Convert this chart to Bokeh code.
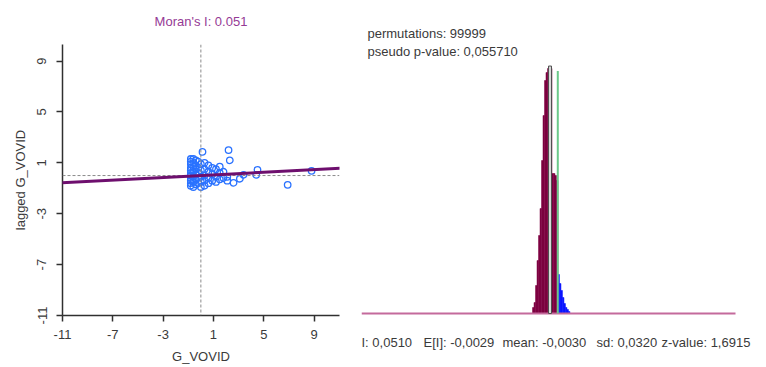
from bokeh.plotting import figure
from bokeh.models import Range1d, Span, Slope, Label, FixedTicker
from bokeh.layouts import row, column
from bokeh.embed import file_html
from bokeh.resources import INLINE

# ---------------- data ----------------
var_name = "G_VOVID"
moran_i = 0.051
x_ticks = [-11, -7, -3, 1, 5, 9]
y_ticks = [-11, -7, -3, 1, 5, 9]

x_vals = [-0.8, -0.8, -0.8, -0.8, -0.8, -0.8, -0.8, -0.8, -0.8, -0.8, -0.8,
          -0.6, -0.6, -0.6, -0.6, -0.6, -0.6, -0.6,
          -0.4, -0.4, -0.4, -0.4, -0.4, -0.4,
          -0.2, -0.2, -0.2, -0.2, -0.2,
          0.0, 0.0, 0.0, 0.0, 0.0,
          0.13,
          0.3, 0.3, 0.3, 0.3, 0.3,
          0.6, 0.6, 0.6, 0.6,
          0.9, 0.9, 0.9,
          1.2, 1.2, 1.2,
          1.5, 1.5, 1.5,
          1.8, 1.8,
          2.2, 2.3, 2.1, 2.1,
          2.6, 3.1, 3.4, 4.5, 4.4, 6.9, 8.8]
y_vals = [1.3, 1.1, 0.9, 0.6, 0.4, 0.2, 0.0, -0.2, -0.4, -0.6, -0.8,
          1.3, 1.0, 0.7, 0.3, -0.1, -0.5, -0.9,
          1.2, 0.8, 0.5, 0.1, -0.3, -0.7,
          1.1, 0.6, 0.2, -0.2, -0.6,
          0.9, 0.4, -0.1, -0.5, -0.9,
          1.86,
          1.0, 0.5, 0.0, -0.4, -0.8,
          0.8, 0.3, -0.2, -0.6,
          0.6, 0.1, -0.4,
          0.5, -0.1, -0.5,
          0.7, 0.2, -0.3,
          0.3, -0.2,
          2.0, 1.2, -0.1, -0.4,
          -0.57, -0.25, 0.06, 0.45, 0.06, -0.73, 0.37]

# permutation histogram
bin_edges = [-0.1245, -0.1141, -0.1037, -0.0933, -0.0829, -0.0725, -0.0621,
             -0.0517, -0.0413, -0.0309, -0.0205, -0.0101, 0.0003, 0.0107,
             0.0211, 0.0315, 0.0419, 0.0523, 0.0627, 0.0731, 0.0835, 0.0939,
             0.1043, 0.1147, 0.1251, 0.1355]
bin_counts = [240, 440, 1120, 2120, 3120, 4200, 6120, 7920, 9320, 9640, 9800,
              9800, 9800, 5600, 5600, 5520, 5320, 1560, 1200, 920, 640, 400,
              240, 160, 80]
hist_axis = [-1.312, 1.285]

observed_i = 0.0510
expected_i = -0.0029
perm_mean = -0.0030
perm_sd = 0.0320
z_value = 1.6915
permutations = 99999
p_value = 0.055710

FONT = "Liberation Sans"
TXT = "#3a3a3a"

# ---------------- left: Moran scatter ----------------
p1 = figure(frame_width=277, frame_height=271,
            x_range=Range1d(-11, 11.02), y_range=Range1d(-11, 10.3),
            output_backend="svg", toolbar_location=None,
            min_border_left=62, min_border_right=19,
            min_border_top=43, min_border_bottom=52)
p1.title.text = "Moran's I: 0.051"
p1.title.align = "center"
p1.title.vertical_align = "top"
p1.title.text_font = FONT
p1.title.text_font_size = "13px"
p1.title.text_font_style = "normal"
p1.title.text_color = "#953a95"
p1.title.standoff = 27
p1.grid.visible = False
p1.outline_line_color = None

p1.xaxis.ticker = FixedTicker(ticks=x_ticks)
p1.yaxis.ticker = FixedTicker(ticks=y_ticks)
p1.xaxis.major_label_overrides = {t: str(t) for t in x_ticks}
p1.yaxis.major_label_overrides = {t: str(t) for t in y_ticks}
p1.xaxis.axis_label = var_name
p1.yaxis.axis_label = "lagged " + var_name
p1.yaxis.major_label_orientation = "vertical"
for ax in (p1.xaxis[0], p1.yaxis[0]):
    ax.axis_line_color = "#303030"
    ax.axis_line_width = 1.5
    ax.major_tick_line_color = "#303030"
    ax.major_tick_line_width = 1.5
    ax.major_tick_out = 6
    ax.major_tick_in = 0
    ax.minor_tick_line_color = None
    ax.major_label_text_font = FONT
    ax.major_label_text_font_size = "13px"
    ax.major_label_text_color = TXT
    ax.axis_label_text_font = FONT
    ax.axis_label_text_font_size = "13px"
    ax.axis_label_text_font_style = "normal"
    ax.axis_label_text_color = TXT
p1.xaxis.major_label_standoff = 8
p1.yaxis.major_label_standoff = 10
p1.xaxis.axis_label_standoff = 7
p1.yaxis.axis_label_standoff = 7

p1.add_layout(Span(location=0, dimension="height", line_color="#8a8a8a",
                   line_dash="3 2", line_width=1))
p1.add_layout(Span(location=0, dimension="width", line_color="#8a8a8a",
                   line_dash="3 2", line_width=1))
p1.scatter(x_vals, y_vals, size=6.5, marker="circle", fill_color=None,
           line_color="#2a72ff", line_width=1.3)
p1.add_layout(Slope(gradient=moran_i, y_intercept=0, line_color="#6e0f6e",
                    line_width=3))

# ---------------- right: permutation histogram ----------------
FW = 404
ppu = 374 / (hist_axis[1] - hist_axis[0])       # pixels per unit of I
cpp = max(bin_counts) / 245                      # counts per pixel
BASE = 313                                       # baseline row (px)
FH = 366
p2 = figure(title=None, frame_width=FW, frame_height=FH,
            x_range=Range1d(hist_axis[0], hist_axis[0] + FW / ppu),
            y_range=Range1d(-(FH - BASE) * cpp, BASE * cpp),
            output_backend="svg", toolbar_location=None,
            min_border_left=3, min_border_right=0,
            min_border_top=0, min_border_bottom=0)
p2.axis.visible = False
p2.grid.visible = False
p2.outline_line_color = None

lefts = bin_edges[:-1]
rights = bin_edges[1:]
mar = [i for i in range(len(bin_counts)) if rights[i] <= observed_i + 0.002]
blu = [i for i in range(len(bin_counts)) if i not in mar]
p2.quad(left=[lefts[i] for i in mar], right=[rights[i] for i in mar],
        bottom=0, top=[bin_counts[i] for i in mar],
        fill_color="#7d0040", line_color="#7d0040", line_width=0.5)
p2.quad(left=[lefts[i] for i in blu], right=[rights[i] for i in blu],
        bottom=0, top=[bin_counts[i] for i in blu],
        fill_color="#0a14ff", line_color="#0a14ff", line_width=0.5)
# baseline
p2.segment(x0=[hist_axis[0]], y0=[0], x1=[hist_axis[1]], y1=[0],
           line_color="#c46a9c", line_width=2)
# mean marker
half = (bin_edges[1] - bin_edges[0])
p2.quad(left=[perm_mean - half], right=[perm_mean + half], bottom=0,
        top=[max(bin_counts) * 1.01], fill_color="#d8d8d8",
        line_color="#505050", line_width=1)
# observed statistic
p2.segment(x0=[observed_i], y0=[0], x1=[observed_i], y1=[max(bin_counts) * 0.99],
           line_color="#6cc98a", line_width=2)

def fmt(v):
    return ("%.4f" % v).replace(".", ",")

def lab(txt, px, py):
    p2.add_layout(Label(x=hist_axis[0] + px / ppu, y=(BASE - py) * cpp, text=txt,
                        text_font=FONT, text_font_size="13px",
                        text_color=TXT, text_baseline="middle",
                        text_align="left"))

lab("permutations: %d" % permutations, 6, 33)
lab("pseudo p-value: " + ("%.6f" % p_value).replace(".", ","), 6, 51)
lab("I: " + fmt(observed_i), 0, 342)
lab("E[I]: " + fmt(expected_i), 62, 342)
lab("mean: " + fmt(perm_mean), 141, 342)
lab("sd: " + fmt(perm_sd), 235, 342)
lab("z-value: " + fmt(z_value), 300, 342)

layout = row(p1, column(p2))
open("out.html", "w").write(file_html(layout, INLINE))
